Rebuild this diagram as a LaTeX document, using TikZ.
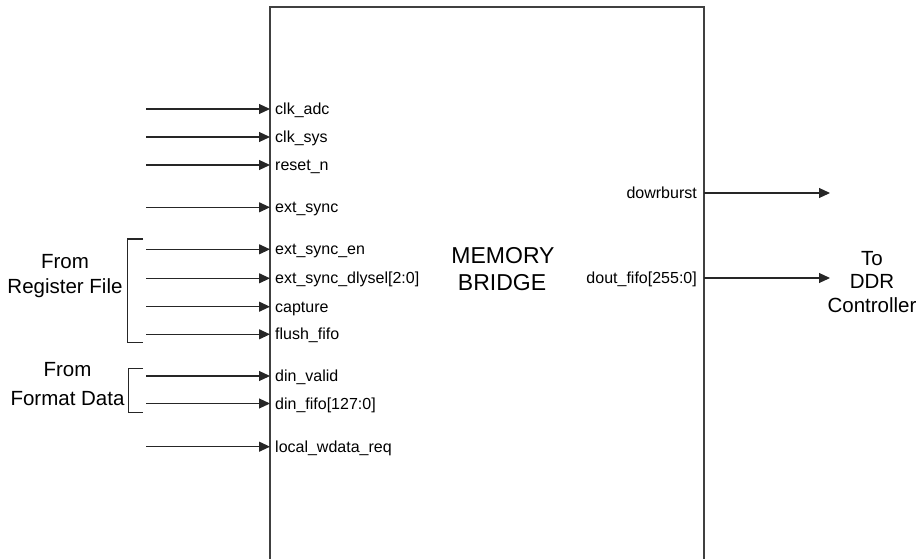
\documentclass[tikz,border=0pt]{standalone}
\usepackage{fontspec}
\setmainfont{Liberation Sans}
\usetikzlibrary{arrows.meta}
\begin{document}
\begin{tikzpicture}[x=1pt,y=-1pt,
  sig/.style={line width=1.1pt,draw=black!85,-{Triangle[length=11pt,width=10pt]}},
  boxline/.style={line width=1.3pt,draw=black!75},
  brk/.style={line width=1.1pt,draw=black!85},
  lbl/.style={inner sep=0pt,font=\fontsize{16}{19}\selectfont},
  big/.style={inner sep=0pt,anchor=base,font=\fontsize{20.5}{24}\selectfont},
  title/.style={inner sep=0pt,anchor=base,font=\fontsize{23}{27}\selectfont}]
\useasboundingbox (0,0) rectangle (917,559);
% block outline (open at the bottom, runs off the picture)
\draw[boxline] (270,559) -- (270,7) -- (704,7) -- (704,559);
% title
\node[title] (t1) at (503,263) {MEMORY};
\node[title] (t2) at (502,290) {BRIDGE};
% inputs
\foreach \n/\y/\t in {a/109/clk\_adc, b/137/clk\_sys, c/165/reset\_n, d/207.3/ext\_sync,
  e/249.3/ext\_sync\_en, f/278.3/ext\_sync\_dlysel[2:0], g/306.7/capture, h/334.3/flush\_fifo,
  i/376/din\_valid, j/403.5/din\_fifo[127:0], k/446.7/local\_wdata\_req}{
  \coordinate (s\n) at (146,\y);
  \coordinate (e\n) at (270,\y);
  \draw[sig] (s\n) -- (e\n);
  \node[lbl,anchor=base west] (l\n) at (275,\y+5.5) {\t};
}
% outputs
\coordinate (os1) at (704,193);
\coordinate (oe1) at (830,193);
\coordinate (os2) at (704,278);
\coordinate (oe2) at (830,278);
\draw[sig] (os1) -- (oe1);
\draw[sig] (os2) -- (oe2);
\node[lbl,anchor=base east] (o1) at (697,198.5) {dowrburst};
\node[lbl,anchor=base east] (o2) at (697,283.5) {dout\_fifo[255:0]};
% brackets
\coordinate (b1a) at (143,239);
\coordinate (b1b) at (127.3,239);
\coordinate (b1c) at (127.3,342.5);
\coordinate (b1d) at (143,342.5);
\draw[brk] (b1a) -- (b1b) -- (b1c) -- (b1d);
\coordinate (b2a) at (143,368.3);
\coordinate (b2b) at (128.5,368.3);
\coordinate (b2c) at (128.5,412.7);
\coordinate (b2d) at (143,412.7);
\draw[brk] (b2a) -- (b2b) -- (b2c) -- (b2d);
% group labels
\node[big] (g1a) at (65,268) {From};
\node[big] (g1b) at (65,293) {Register File};
\node[big] (g2a) at (67.5,376.5) {From};
\node[big] (g2b) at (67.5,405) {Format Data};
\node[big] (g3a) at (872,265) {To};
\node[big] (g3b) at (872,288.5) {DDR};
\node[big] (g3c) at (872,312) {Controller};
\end{tikzpicture}
\end{document}
